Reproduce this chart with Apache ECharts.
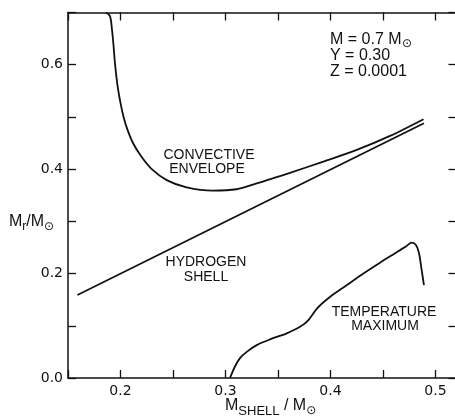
<!DOCTYPE html>
<html>
<head>
<meta charset="utf-8">
<script src="https://cdn.jsdelivr.net/npm/echarts@6/dist/echarts.min.js"></script>
<style>
html,body{margin:0;padding:0;background:#fff;}
#chart{width:455px;height:416px;}
</style>
</head>
<body>
<div id="chart"></div>
<script>
// 对流包层底部 (M_shell, M_r)
const envelopeX = [0.1862, 0.19, 0.1919, 0.1933, 0.1948, 0.1971, 0.1998, 0.2029, 0.2067, 0.2119, 0.2195, 0.2295, 0.244, 0.263, 0.288, 0.3106, 0.3297, 0.3455, 0.3614, 0.3932, 0.425, 0.4567, 0.4886];
const envelopeY = [0.7, 0.693, 0.667, 0.638, 0.601, 0.561, 0.5287, 0.50, 0.4751, 0.45, 0.425, 0.4004, 0.379, 0.365, 0.3588, 0.3615, 0.3726, 0.3826, 0.393, 0.4144, 0.4368, 0.4636, 0.4956];
// 氢燃烧壳层
const hydrogenX = [0.159, 0.489];
const hydrogenY = [0.159, 0.488];
// 温度极大值位置
const tempX = [0.3043, 0.309, 0.3138, 0.3202, 0.3297, 0.3424, 0.3583, 0.371, 0.379, 0.3873, 0.40, 0.4156, 0.4317, 0.4471, 0.463, 0.4725, 0.4773, 0.4814, 0.4843, 0.4868, 0.489];
const tempY = [0.0, 0.022, 0.038, 0.050, 0.063, 0.074, 0.0856, 0.098, 0.111, 0.1335, 0.156, 0.178, 0.2006, 0.2209, 0.2408, 0.2529, 0.2592, 0.2548, 0.2389, 0.2069, 0.178];

const FONT = 'Liberation Sans, DejaVu Sans, sans-serif';
const INK = '#111';

function zip(xs, ys){
	let out = [];
	for(let i = 0; i < xs.length; i++){
		out.push([xs[i], ys[i]]);
	}
	return out;
}

function isStep(v, step){
	let k = v / step;
	return Math.abs(k - Math.round(k)) < 1e-6;
}

function lineSeries(xs, ys, smooth){
	return {
		type: 'line',
		data: zip(xs, ys),
		showSymbol: false,
		smooth: smooth,
		lineStyle: {color: INK, width: 1.8},
		silent: true
	};
}

// onZero 关掉，否则顶部 x 轴会被挪到 y=0
const axisLine = {show: true, onZero: false, lineStyle: {color: INK, width: 1.5}};
const tick = {show: true, inside: true, length: 8, lineStyle: {color: INK, width: 1.3}};

const rich = {
	n: {fontSize: 16, fontFamily: FONT, color: INK},
	s: {fontSize: 12, fontFamily: FONT, color: INK, padding: [9, 0, 0, 0]},
	ss: {fontSize: 13, fontFamily: FONT, color: INK, padding: [10, 0, 0, 0]}
};

function label(x, y, text, size, align){
	return {
		type: 'text', x: x, y: y, silent: true,
		style: {text: text, fontSize: size, fontFamily: FONT, fill: INK, align: align || 'center', verticalAlign: 'middle'}
	};
}

function richLabel(x, y, text){
	return {
		type: 'text', x: x, y: y, silent: true,
		style: {text: text, rich: rich, align: 'left', verticalAlign: 'middle', fill: INK}
	};
}

let chart = echarts.init(document.getElementById('chart'));
chart.setOption({
	animation: false,
	backgroundColor: '#fff',
	grid: {left: 68, top: 12.5, right: -1.5, bottom: 38, outerBoundsMode: 'none'},
	xAxis: [{
		type: 'value', position: 'bottom', min: 0.15, max: 0.52, interval: 0.05,
		axisLine: axisLine, axisTick: tick, splitLine: {show: false},
		axisLabel: {
			margin: 6, fontSize: 14, fontFamily: 'DejaVu Sans', color: INK,
			formatter: function(v){ return isStep(v, 0.1) ? v.toFixed(1) : ''; }
		}
	}, {
		type: 'value', position: 'top', min: 0.15, max: 0.52, interval: 0.05,
		axisLine: axisLine, axisTick: tick, splitLine: {show: false}, axisLabel: {show: false}
	}],
	yAxis: [{
		type: 'value', position: 'left', min: 0, max: 0.7, interval: 0.1,
		axisLine: axisLine, axisTick: tick, splitLine: {show: false},
		axisLabel: {
			margin: 5, fontSize: 14, fontFamily: 'DejaVu Sans', color: INK,
			formatter: function(v){ return isStep(v, 0.2) ? v.toFixed(1) : ''; }
		}
	}, {
		type: 'value', position: 'right', min: 0, max: 0.7, interval: 0.1,
		axisLine: axisLine, axisTick: tick, splitLine: {show: false}, axisLabel: {show: false}
	}],
	series: [
		lineSeries(envelopeX, envelopeY, 0.3),
		lineSeries(hydrogenX, hydrogenY, false),
		lineSeries(tempX, tempY, 0.3)
	],
	graphic: [
		label(209, 155, 'CONVECTIVE', 14),
		label(207, 169.5, 'ENVELOPE', 14),
		label(206, 262, 'HYDROGEN', 14),
		label(206, 277, 'SHELL', 14),
		label(384, 312, 'TEMPERATURE', 14),
		label(385, 326.5, 'MAXIMUM', 14),
		label(330, 40, 'M = 0.7 M', 16, 'left'),
		label(402, 44, '⊙', 12, 'left'),
		label(330, 56, 'Y = 0.30', 16, 'left'),
		label(330, 72, 'Z = 0.0001', 16, 'left'),
		richLabel(9, 222, '{n|M}{s|r}{n|/M}{s|⊙}'),
		richLabel(225, 406, '{n|M}{ss|SHELL}{n| / M}{s|⊙}')
	]
});
</script>
</body>
</html>
